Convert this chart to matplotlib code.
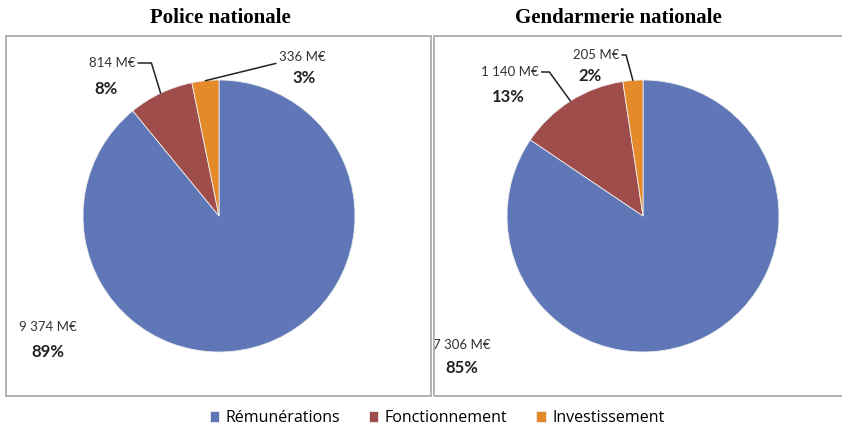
import math
import matplotlib.pyplot as plt
from matplotlib.patches import Rectangle

# data
categories = ["Rémunérations", "Fonctionnement", "Investissement"]
police = [9374, 814, 336]
gendarmerie = [7306, 1140, 205]
police_amounts = ["9 374 M€", "814 M€", "336 M€"]
gend_amounts = ["7 306 M€", "1 140 M€", "205 M€"]
police_pct = ["89%", "8%", "3%"]
gend_pct = ["85%", "13%", "2%"]

colors = ["#5f77b7", "#9e4d4a", "#e58a2a"]
label_font = "Lato"

W, H = 842, 428
R = 136  # pie radius in px

fig = plt.figure(figsize=(W / 100, H / 100), dpi=100)


def px_axes(x0, x1, y0, y1):
    return fig.add_axes([x0 / W, 1 - y1 / H, (x1 - x0) / W, (y1 - y0) / H])


def draw_pie(ax, cx, cy, x0, x1, y0, y1, values, amounts, pcts, amt_pos, pct_pos, conn):
    wedges, _ = ax.pie(values, colors=colors, startangle=90, counterclock=False,
                       wedgeprops=dict(linewidth=0.6, edgecolor="#eeeeee"))
    ax.set_aspect("auto")
    ax.set_xlim((x0 - cx) / R, (x1 - cx) / R)
    ax.set_ylim((cy - y1) / R, (cy - y0) / R)
    ax.set_frame_on(False)
    total = sum(values)
    cum = 0
    for i, v in enumerate(values):
        # middle of the wedge, on its edge: where the leader line ends
        mid = 90 - 360 * (cum + v / 2) / total
        cum += v
        ex, ey = math.cos(math.radians(mid)), math.sin(math.radians(mid))
        tx, ty = amt_pos[i]
        tx, ty = (tx - cx) / R, (cy - ty) / R
        if conn[i] is None:
            ax.text(tx, ty, amounts[i], ha="center", va="center", fontsize=9.5,
                    family=label_font, color="#333333")
        else:
            ax.annotate(amounts[i], xy=(ex, ey), xytext=(tx, ty), ha="center",
                        va="center", fontsize=9.5, family=label_font, color="#333333",
                        arrowprops=dict(arrowstyle="-", color="#222222", lw=1.1,
                                        shrinkA=0, shrinkB=0,
                                        connectionstyle=conn[i]))
        px, py = pct_pos[i]
        ax.text((px - cx) / R, (cy - py) / R, pcts[i], ha="center", va="center",
                fontsize=12, fontweight="bold", family=label_font, color="#222222")
    return wedges


# left panel: Police nationale
axL = px_axes(6, 431, 36, 396)
wedges = draw_pie(axL, 219, 216, 6, 431, 36, 396, police, police_amounts, police_pct,
                  [(48, 327), (112, 63), (302, 57)],
                  [(48, 352), (106, 89), (304, 78)],
                  [None, "angle,angleA=0,angleB=-73,rad=0", "arc3"])

# right panel: Gendarmerie nationale
axR = px_axes(434, 842, 36, 396)
draw_pie(axR, 643, 216, 434, 842, 36, 396, gendarmerie, gend_amounts, gend_pct,
         [(462, 345), (510, 72), (596, 55)],
         [(462, 368), (508, 97), (590, 76)],
         [None, "angle,angleA=0,angleB=-54,rad=0", "angle,angleA=0,angleB=-75,rad=0"])

# panel borders
for x0, x1 in [(6, 431), (434, 850)]:
    fig.patches.append(Rectangle((x0 / W, 1 - 396 / H), (x1 - x0) / W, 360 / H,
                                 transform=fig.transFigure, fill=False,
                                 edgecolor="#adadad", linewidth=1.3))

fig.text(220 / W, 1 - 18 / H, "Police nationale", ha="center", va="center",
         fontsize=15, fontweight="bold", family="Liberation Serif")
fig.text(618 / W, 1 - 18 / H, "Gendarmerie nationale", ha="center", va="center",
         fontsize=15, fontweight="bold", family="Liberation Serif")

fig.legend(wedges, categories, loc="center", bbox_to_anchor=(437 / W, 1 - 418 / H),
           ncol=3, frameon=False, handlelength=0.6, handleheight=0.7,
           handletextpad=0.4, columnspacing=1.8,
           prop=dict(family="Open Sans", size=11.5))

fig.savefig("out.png", dpi=100)
